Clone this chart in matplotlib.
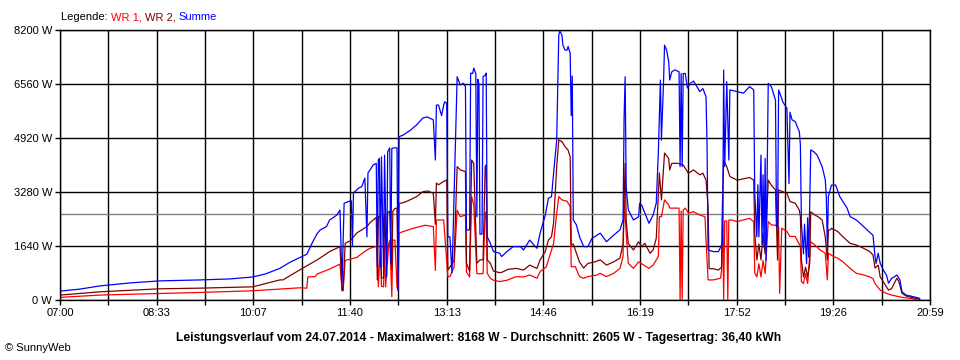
import matplotlib

matplotlib.use("Agg")

import matplotlib.pyplot as plt
import numpy as np

plt.rcParams["font.family"] = ["Liberation Sans", "DejaVu Sans"]

# minutes after 07:00 -> watts
span_min = 839
x_labels = ["07:00", "08:33", "10:07", "11:40", "13:13", "14:46", "16:19", "17:52", "19:26", "20:59"]
y_ticks = [0, 1640, 3280, 4920, 6560, 8200]
average_w = 2605
title = ("Leistungsverlauf vom 24.07.2014 - Maximalwert: 8168 W - "
         "Durchschnitt: 2605 W - Tagesertrag: 36,40 kWh")

summe = [
    (0, 270), (19, 330), (39, 430), (68, 520), (96, 580), (135, 610), (164, 640), (186, 700),
    (198, 790), (212, 960), (222, 1150), (228, 1240), (234, 1330), (238, 1390), (243, 1720),
    (248, 2020), (251, 2130), (257, 2230), (260, 2430), (267, 2580), (270, 2730), (272, 510),
    (274, 2940), (280, 3010), (281, 3010), (282, 1620), (283, 3250), (288, 3400), (291, 3440),
    (294, 3700), (296, 1920), (297, 3860), (299, 3950), (302, 4100), (305, 4150), (306, 1010),
    (307, 4250), (308, 4300), (309, 1010), (310, 4350), (312, 1010), (313, 4400), (315, 700),
    (316, 4500), (318, 4620), (319, 1120), (320, 4600), (322, 4620), (325, 4620), (326, 300),
    (327, 4960), (331, 5010), (338, 5160), (344, 5320), (350, 5530), (354, 5560), (360, 5470),
    (362, 4250), (363, 5920), (365, 5920), (368, 5600), (370, 5920), (371, 6020), (373, 5970),
    (374, 1920), (376, 1920), (378, 820), (379, 1920), (383, 6780), (386, 6530), (389, 6580),
    (391, 6480), (392, 2130), (395, 2130), (396, 6890), (398, 6880), (399, 7040), (401, 6880),
    (402, 2530), (403, 6700), (404, 6550), (405, 2000), (407, 2000), (408, 6780), (410, 6830),
    (411, 6890), (412, 1920), (415, 1720), (418, 1470), (424, 1420), (426, 1320), (431, 1470),
    (437, 1620), (444, 1620), (447, 1520), (453, 1820), (457, 1670), (460, 1570), (463, 2030),
    (468, 2580), (471, 3090), (474, 3140), (476, 3850), (479, 4860), (481, 8050), (482, 8168),
    (484, 8050), (485, 7740), (487, 7590), (489, 7590), (490, 7700), (491, 7590), (492, 7500),
    (493, 5600), (494, 6800), (495, 2430), (498, 2280), (501, 1920), (505, 1620), (509, 1620),
    (513, 1870), (521, 2030), (527, 1770), (534, 1970), (540, 2130), (543, 2430), (544, 5560),
    (545, 6780), (546, 3440), (548, 2740), (553, 2430), (558, 2530), (559, 2940), (561, 2880),
    (564, 2640), (568, 2330), (572, 2580), (575, 2940), (577, 4460), (579, 6680), (580, 4860),
    (582, 6580), (583, 7740), (585, 7590), (587, 7240), (588, 6680), (590, 6930), (593, 6990),
    (597, 6930), (598, 4050), (599, 6880), (600, 4050), (601, 6880), (603, 6880), (605, 6440),
    (608, 6580), (611, 6650), (617, 6330), (620, 6420), (623, 6170), (624, 4710), (625, 1520),
    (630, 1470), (635, 1470), (638, 1670), (639, 1670), (640, 6985), (641, 4050), (643, 6630),
    (645, 4250), (646, 6380), (653, 6330), (659, 6280), (665, 6480), (669, 6380), (670, 3240),
    (672, 1920), (673, 3500), (674, 1920), (676, 4400), (677, 1700), (678, 3800), (679, 1600),
    (680, 4300), (681, 1200), (683, 6580), (686, 6480), (690, 6070), (691, 2230), (692, 2230),
    (693, 6380), (696, 6120), (697, 6020), (701, 5820), (703, 3540), (704, 5700), (706, 5470),
    (709, 5420), (713, 5110), (714, 4710), (715, 2330), (717, 1400), (718, 2300), (720, 1100),
    (721, 2500), (722, 1300), (724, 4560), (727, 4500), (730, 4410), (735, 4050), (738, 3650),
    (739, 3140), (740, 1620), (741, 3140), (744, 3490), (748, 3490), (752, 3140), (759, 2790),
    (762, 2530), (768, 2430), (775, 2230), (780, 2080), (784, 1970), (786, 1320), (787, 1110),
    (789, 1420), (791, 1110), (794, 910), (797, 760), (799, 510), (802, 660), (805, 710),
    (807, 760), (810, 610), (812, 250), (816, 150), (823, 100), (829, 50),
]

wr2 = [
    (0, 150), (39, 250), (96, 340), (135, 360), (186, 400), (212, 610), (215, 610), (231, 910),
    (248, 1220), (251, 1280), (260, 1470), (270, 1620), (272, 300), (273, 300), (275, 1720),
    (280, 1800), (286, 2030), (296, 2230), (299, 2350), (304, 2480), (305, 2500), (306, 610),
    (307, 2520), (309, 2550), (310, 670), (312, 670), (313, 2600), (315, 1120), (316, 2650),
    (318, 2700), (320, 910), (321, 2700), (323, 2780), (325, 2790), (326, 300), (327, 2940),
    (329, 2940), (334, 2990), (344, 3140), (350, 3290), (355, 3310), (360, 3240), (362, 2300),
    (363, 3550), (365, 3500), (370, 3600), (373, 3650), (374, 910), (376, 1000), (380, 1200),
    (383, 4050), (386, 3950), (391, 3900), (392, 1115), (395, 880), (397, 4250), (399, 4150),
    (402, 1115), (405, 1220), (408, 1220), (410, 4050), (411, 4100), (412, 1220), (415, 1115),
    (418, 880), (424, 830), (426, 840), (432, 930), (440, 960), (447, 910), (453, 1060),
    (457, 1000), (460, 960), (463, 1220), (468, 1470), (471, 1820), (474, 1920), (476, 2340),
    (479, 4050), (481, 4860), (484, 4810), (487, 4660), (490, 4550), (492, 4350), (493, 1670),
    (495, 1700), (497, 1520), (501, 1150), (505, 970), (509, 1110), (516, 1160), (521, 1220),
    (527, 1060), (534, 1160), (540, 1270), (543, 1720), (545, 4150), (546, 2430), (548, 1720),
    (553, 1520), (558, 1770), (561, 1620), (564, 1720), (569, 1420), (572, 1520), (575, 1870),
    (578, 3860), (580, 3040), (583, 4460), (587, 4300), (588, 3950), (590, 4150), (596, 4150),
    (601, 4100), (606, 3850), (611, 3950), (617, 3800), (620, 3850), (623, 3640), (625, 2830),
    (626, 950), (630, 950), (635, 910), (638, 1000), (639, 3040), (640, 4250), (643, 4050),
    (646, 3750), (653, 3640), (665, 3720), (669, 3640), (670, 2030), (672, 1215), (674, 1700),
    (676, 1215), (678, 2030), (680, 1400), (683, 3640), (686, 3490), (690, 3340), (692, 1215),
    (693, 3340), (697, 3290), (701, 3240), (704, 2990), (709, 2940), (713, 2730), (714, 2530),
    (715, 1215), (717, 700), (719, 1000), (721, 700), (723, 1100), (724, 2680), (728, 2580),
    (731, 2530), (735, 2430), (738, 1920), (740, 1215), (741, 2130), (743, 2130), (744, 2180),
    (750, 2080), (755, 1920), (762, 1720), (768, 1670), (775, 1570), (781, 1470), (784, 1367),
    (786, 970), (789, 1060), (791, 700), (794, 550), (799, 300), (802, 350), (807, 660),
    (809, 560), (812, 200), (816, 120), (825, 50), (829, 20),
]

wr1 = [
    (0, 80), (39, 150), (135, 230), (186, 280), (231, 370), (238, 360), (239, 700), (246, 710),
    (248, 790), (260, 940), (270, 1090), (272, 280), (273, 280), (275, 1200), (286, 1290),
    (296, 1520), (299, 1570), (304, 1620), (306, 1620), (307, 400), (309, 1650), (310, 420),
    (312, 400), (313, 1650), (314, 400), (317, 1700), (318, 1820), (320, 100), (321, 1820),
    (323, 1820), (325, 400), (326, 300), (327, 2030), (331, 2080), (341, 2180), (347, 2230),
    (352, 2270), (360, 2230), (362, 900), (363, 2430), (370, 2430), (374, 710), (376, 710),
    (380, 1000), (383, 2730), (386, 2530), (391, 2580), (392, 850), (395, 700), (397, 3140),
    (399, 2900), (402, 800), (408, 800), (410, 2640), (411, 2680), (412, 810), (415, 660),
    (418, 600), (424, 560), (431, 600), (440, 710), (447, 700), (453, 760), (460, 660),
    (463, 860), (469, 1010), (476, 1720), (479, 2630), (481, 3140), (484, 3040), (489, 3000),
    (492, 2830), (493, 1010), (497, 1010), (501, 710), (505, 660), (509, 710), (518, 760),
    (521, 810), (527, 710), (534, 810), (540, 960), (543, 1320), (544, 3040), (546, 2030),
    (548, 1120), (553, 960), (558, 1160), (563, 1060), (568, 960), (572, 1060), (577, 1320),
    (578, 2530), (580, 2530), (583, 3040), (587, 2890), (588, 2790), (597, 2790), (598, 0),
    (599, 2700), (600, 0), (601, 2730), (603, 2790), (606, 2640), (611, 2680), (617, 2580),
    (622, 2530), (623, 1820), (625, 610), (630, 610), (637, 660), (638, 900), (639, 3140),
    (640, 0), (641, 2400), (643, 2400), (644, 0), (645, 2430), (648, 2430), (653, 2380),
    (665, 2480), (669, 2380), (670, 820), (672, 700), (674, 1100), (676, 700), (678, 1200),
    (680, 800), (683, 2380), (686, 2280), (690, 2270), (693, 2220), (694, 200), (696, 2180),
    (701, 2080), (704, 1930), (709, 1930), (714, 1630), (715, 560), (717, 500), (719, 800),
    (721, 500), (724, 1770), (728, 1670), (733, 1520), (738, 1420), (740, 610), (741, 1420),
    (746, 1320), (750, 1270), (755, 1160), (762, 960), (768, 810), (775, 760), (781, 700),
    (784, 650), (786, 500), (791, 300), (797, 200), (802, 150), (812, 80), (820, 50), (826, 20),
]

RED = "#ff0000"
DARK_RED = "#800000"
BLUE = "#0000ff"

fig = plt.figure(figsize=(9.6, 3.6), dpi=100)
ax = fig.add_axes([60 / 960, 60 / 360, 870 / 960, 270 / 360])

ax.axhline(average_w, color="#808080", lw=1.0, zorder=1.5)
for pts, color in [(wr1, RED), (wr2, DARK_RED), (summe, BLUE)]:
    arr = np.array(pts, dtype=float)
    ax.plot(arr[:, 0], arr[:, 1], color=color, lw=0.9, zorder=2)

ax.set_xlim(0, span_min)
ax.set_ylim(0, y_ticks[-1])

x_ticks = np.linspace(0, span_min, 2 * (len(x_labels) - 1) + 1)
ax.set_xticks(x_ticks)
ax.set_xticklabels([x_labels[i // 2] if i % 2 == 0 else "" for i in range(len(x_ticks))])
ax.set_yticks(y_ticks)
ax.set_yticklabels([f"{v} W" for v in y_ticks])

ax.set_axisbelow(True)
ax.grid(True, color="black", lw=1.0)
for side in ax.spines.values():
    side.set_color("black")
    side.set_linewidth(1.0)
ax.tick_params(direction="out", length=3.6, width=1.0, color="black", labelsize=8, pad=2)

# legend line at top, coloured word by word
prev = fig.text(61 / 960, 1 - 17 / 360, "Legende: ", fontsize=8, va="center")
for word, color in [("WR 1, ", RED), ("WR 2, ", DARK_RED), ("Summe", BLUE)]:
    prev = ax.annotate(word, xy=(1, 0.5), xycoords=prev, fontsize=8, color=color,
                       va="center", ha="left", annotation_clip=False)

fig.text(479 / 960, 1 - 338 / 360, title, fontsize=8.7, weight="bold", ha="center", va="center")
fig.text(5 / 960, 1 - 348 / 360, "\u00a9 SunnyWeb", fontsize=8, va="center")

fig.savefig("out.png", dpi=100)
